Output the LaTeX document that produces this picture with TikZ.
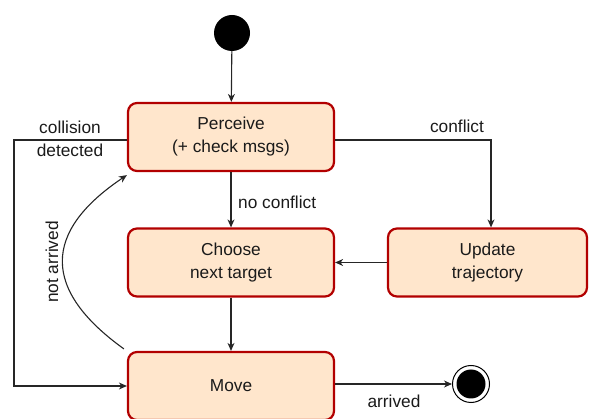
\documentclass[tikz,border=0pt]{standalone}
\usepackage{fontspec}
\setmainfont{Liberation Sans}
\usetikzlibrary{arrows.meta}
\definecolor{boxfill}{HTML}{FFE6CC}
\definecolor{boxline}{HTML}{B20000}
\definecolor{txt}{HTML}{1A1A1A}
\begin{document}
\begin{tikzpicture}[x=1pt,y=-1pt,
  statebox/.style={draw=boxline, fill=boxfill, line width=2.2pt, rounded corners=9pt,
    minimum width=206pt, minimum height=68pt, inner sep=0pt, align=center,
    font=\fontsize{17.3}{23}\selectfont, text=txt},
  conn/.style={draw=black!85, line width=1.1pt, -{Stealth[length=8pt,width=7pt,inset=2.5pt]}},
  lbl/.style={font=\fontsize{17.3}{23}\selectfont, text=txt, inner sep=0pt, align=center}]
\useasboundingbox (0,0) rectangle (592,419);
\node[circle, fill=black, minimum size=36pt, inner sep=0pt] (init) at (232,33) {};
\node[statebox] (perc) at (231,137) {Perceive\\(+ check msgs)};
\node[statebox] (choose) at (231,262.5) {Choose\\next target};
\node[statebox, minimum width=199pt] (upd) at (487.5,262.5) {Update\\trajectory};
\node[statebox] (move) at (231,386) {Move};
\node[circle, draw=black, line width=1pt, fill=white, minimum size=37pt, inner sep=0pt] (fin) at (471,384) {};
\node[circle, fill=black, minimum size=29pt, inner sep=0pt] at (fin) {};
\coordinate (cl) at (14,140);
\coordinate (cr) at (491,140);

\draw[conn] (init) -- (perc);
\draw[conn] (perc) -- (choose);
\node[lbl, anchor=west] at (238,202) {no conflict};
\draw[conn] (choose) -- (move);
\draw[conn] (upd) -- (choose);
\draw[conn] (perc.east |- cr) -- (cr) -- (cr |- upd.north);
\node[lbl] at (457,126) {conflict};
\draw[conn] (perc.west |- cl) -- (cl) -- (cl |- move) -- (move.west);
\node[lbl] at (70,127.5) {collision};
\node[lbl] at (70,150) {detected};
\draw[conn] (fin.west -| move.east) -- (fin.west);
\node[lbl] at (394,401) {arrived};
\draw[conn] ([xshift=-3pt,yshift=2pt]move.north west) .. controls (42,290) and (42,232) .. ([yshift=-3pt]perc.south west);
\node[lbl, rotate=90] at (52,262) {not arrived};
\end{tikzpicture}
\end{document}
